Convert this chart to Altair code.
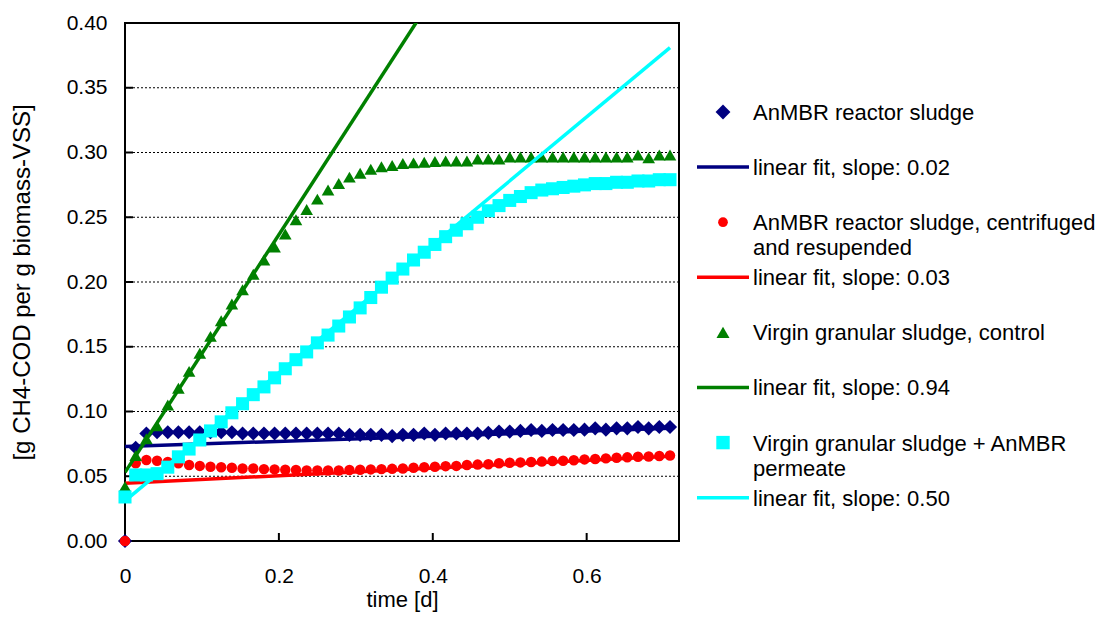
import altair as alt
import pandas as pd

FONT = "Liberation Sans"

# time points [d]
time_d = [0.0, 0.0139, 0.0278, 0.0417, 0.0556, 0.0694, 0.0833, 0.0972, 0.1111, 0.125,
          0.1389, 0.1528, 0.1667, 0.1806, 0.1944, 0.2083, 0.2222, 0.2361, 0.25, 0.2639,
          0.2778, 0.2917, 0.3056, 0.3194, 0.3333, 0.3472, 0.3611, 0.375, 0.3889, 0.4028,
          0.4167, 0.4306, 0.4444, 0.4583, 0.4722, 0.4861, 0.5, 0.5139, 0.5278, 0.5417,
          0.5556, 0.5694, 0.5833, 0.5972, 0.6111, 0.625, 0.6389, 0.6528, 0.6667, 0.6806,
          0.6944, 0.7083]

anmbr = [0.000, 0.072, 0.083, 0.084, 0.084, 0.084, 0.084, 0.084, 0.084, 0.084,
         0.084, 0.083, 0.083, 0.083, 0.083, 0.083, 0.083, 0.083, 0.083, 0.083,
         0.083, 0.082, 0.082, 0.082, 0.082, 0.081, 0.082, 0.082, 0.083, 0.082,
         0.083, 0.083, 0.083, 0.083, 0.0835, 0.0845, 0.0845, 0.085, 0.0857, 0.085,
         0.0857, 0.0857, 0.0857, 0.086, 0.087, 0.086, 0.087, 0.087, 0.088, 0.087,
         0.088, 0.088]

anmbr_centrifuged = [0.000, 0.060, 0.0625, 0.062, 0.061, 0.060, 0.0587, 0.058, 0.0573, 0.057,
                     0.0566, 0.056, 0.056, 0.0555, 0.0553, 0.055, 0.0548, 0.0545, 0.0545, 0.0545,
                     0.0545, 0.0548, 0.055, 0.0553, 0.0555, 0.0557, 0.056, 0.0565, 0.057, 0.0573,
                     0.0578, 0.058, 0.0587, 0.059, 0.0593, 0.060, 0.0604, 0.0607, 0.061, 0.0613,
                     0.0617, 0.062, 0.0623, 0.063, 0.0633, 0.0638, 0.0643, 0.0646, 0.065, 0.0653,
                     0.0656, 0.066]

virgin_control = [0.042, 0.066, 0.079, 0.089, 0.105, 0.118, 0.131, 0.145, 0.158, 0.170,
                  0.183, 0.194, 0.206, 0.217, 0.227, 0.237, 0.248, 0.256, 0.264, 0.271,
                  0.276, 0.281, 0.284, 0.287, 0.289, 0.290, 0.2915, 0.292, 0.2925, 0.293,
                  0.2935, 0.2935, 0.2935, 0.295, 0.295, 0.295, 0.2965, 0.2965, 0.2965, 0.2965,
                  0.2965, 0.2965, 0.2965, 0.2965, 0.2965, 0.2965, 0.2965, 0.2965, 0.298, 0.296,
                  0.298, 0.298]

virgin_permeate = [0.034, 0.051, 0.051, 0.052, 0.057, 0.065, 0.071, 0.078, 0.085, 0.092,
                   0.099, 0.106, 0.113, 0.119, 0.126, 0.133, 0.140, 0.146, 0.153, 0.159,
                   0.166, 0.173, 0.180, 0.188, 0.196, 0.203, 0.210, 0.217, 0.223, 0.229,
                   0.235, 0.240, 0.245, 0.250, 0.255, 0.259, 0.263, 0.266, 0.269, 0.271,
                   0.272, 0.273, 0.274, 0.275, 0.276, 0.276, 0.277, 0.277, 0.278, 0.278,
                   0.279, 0.279]

# linear fits (end points)
fit_t = [0.0, 0.7083]
fit_anmbr = [0.073, 0.087]
fit_centrifuged = [0.0445, 0.0655]
fit_control = [0.053, 0.703]
fit_permeate = [0.031, 0.381]

y_tick_values = [0.0, 0.05, 0.10, 0.15, 0.20, 0.25, 0.30, 0.35, 0.40]
x_tick_values = [0.0, 0.2, 0.4, 0.6]
grid_values = [0.05, 0.10, 0.15, 0.20, 0.25, 0.30, 0.35]

legend_labels = [
    "AnMBR reactor sludge",
    "linear fit, slope: 0.02",
    "AnMBR reactor sludge, centrifuged\nand resupended",
    "linear fit, slope: 0.03",
    "Virgin granular sludge, control",
    "linear fit, slope: 0.94",
    "Virgin granular sludge + AnMBR\npermeate",
    "linear fit, slope: 0.50",
]
legend_kind = ["point", "line", "point", "line", "point", "line", "point", "line"]
legend_shape = ["diamond", "", "circle", "", "triangle-up", "", "square", ""]
legend_size = [220, 0, 95, 0, 170, 0, 180, 0]
legend_color = ["#000080", "#000080", "#FF0000", "#FF0000",
                "#008000", "#008000", "#00FFFF", "#00FFFF"]
legend_row = [0, 1, 2, 3, 4, 5, 6, 7]

W, H = 554, 518
LBL = 21

x_scale = alt.Scale(domain=[0, 0.72], nice=False, zero=False)
y_scale = alt.Scale(domain=[0, 0.40], nice=False)

x_axis = alt.Axis(title="time [d]", values=x_tick_values, format="~g", grid=False,
                  domain=False, ticks=False, tickSize=0, labelPadding=24,
                  labelFontSize=LBL, titleFontSize=22, titlePadding=3,
                  labelFont=FONT, titleFont=FONT, labelColor="black",
                  titleColor="black", titleFontWeight="normal", labelFlush=False)
y_axis = alt.Axis(title="[g CH4-COD per g biomass-VSS]", values=y_tick_values,
                  format=".2f", grid=False, domain=False, ticks=False, tickSize=0,
                  labelPadding=18, labelFontSize=LBL, titleFontSize=24,
                  titlePadding=32, labelFont=FONT, titleFont=FONT,
                  labelColor="black", titleColor="black", titleFontWeight="normal",
                  labelFlush=False)

X = alt.X("t:Q", scale=x_scale, axis=x_axis)
Y = alt.Y("v:Q", scale=y_scale, axis=y_axis)


def points(vals, shape, color, size):
    df = pd.DataFrame({"t": time_d, "v": vals})
    return alt.Chart(df).mark_point(shape=shape, filled=True, color=color,
                                    size=size, opacity=1, strokeWidth=0).encode(x=X, y=Y)


def fit(vals, color):
    df = pd.DataFrame({"t": fit_t, "v": vals})
    return alt.Chart(df).mark_line(color=color, strokeWidth=3.5, clip=True).encode(x=X, y=Y)


grid = alt.Chart(pd.DataFrame({"v": grid_values})).mark_rule(
    color="black", strokeWidth=1, strokeDash=[2, 2]).encode(y=Y)

y_ticks = alt.Chart(pd.DataFrame({"v": y_tick_values})).mark_rule(
    color="black", strokeWidth=2).encode(y=Y, x=alt.value(0), x2=alt.value(8))

x_ticks = alt.Chart(pd.DataFrame({"t": x_tick_values})).mark_rule(
    color="black", strokeWidth=2).encode(x=X, y=alt.value(H), y2=alt.value(H - 8))

main = alt.layer(
    grid, y_ticks, x_ticks,
    points(anmbr, "diamond", "#000080", 200),
    fit(fit_anmbr, "#000080"),
    points(anmbr_centrifuged, "circle", "#FF0000", 110),
    fit(fit_centrifuged, "#FF0000"),
    points(virgin_control, "triangle-up", "#008000", 160),
    fit(fit_control, "#008000"),
    points(virgin_permeate, "square", "#00FFFF", 170),
    fit(fit_permeate, "#00FFFF"),
)

# legend, placed to the right of the plot area
leg_df = pd.DataFrame({
    "r": legend_row, "label": legend_labels, "kind": legend_kind,
    "shape": legend_shape, "color": legend_color, "size": legend_size,
})
LY = alt.Y("r:Q", scale=alt.Scale(domain=[-1.615, 7.786], nice=False, zero=False,
                                  reverse=True), axis=None)

leg_points = alt.Chart(leg_df).transform_filter(alt.datum.kind == "point").mark_point(
    filled=True, opacity=1, strokeWidth=0).encode(
    y=LY, x=alt.value(W + 44),
    shape=alt.Shape("shape:N", scale=None),
    color=alt.Color("color:N", scale=None),
    size=alt.Size("size:Q", scale=None))

leg_lines = alt.Chart(leg_df).transform_filter(alt.datum.kind == "line").mark_rule(
    strokeWidth=3.5).encode(
    y=LY, x=alt.value(W + 18), x2=alt.value(W + 70),
    color=alt.Color("color:N", scale=None))

leg_text = alt.Chart(leg_df).mark_text(
    align="left", baseline="alphabetic", dy=8, fontSize=22, font=FONT,
    color="black", lineBreak="\n", lineHeight=25).encode(
    y=LY, x=alt.value(W + 74), text="label:N")

legend = alt.layer(leg_lines, leg_points, leg_text)

chart = alt.layer(main, legend).resolve_scale(y="independent").properties(
    width=W, height=H,
    view=alt.ViewBackground(stroke="black", strokeWidth=2),
    autosize=alt.AutoSizeParams(type="none"),
    padding={"left": 117, "top": 15, "right": 420, "bottom": 72},
)

chart.save("out.html", embed_options={"renderer": "svg", "actions": False})
